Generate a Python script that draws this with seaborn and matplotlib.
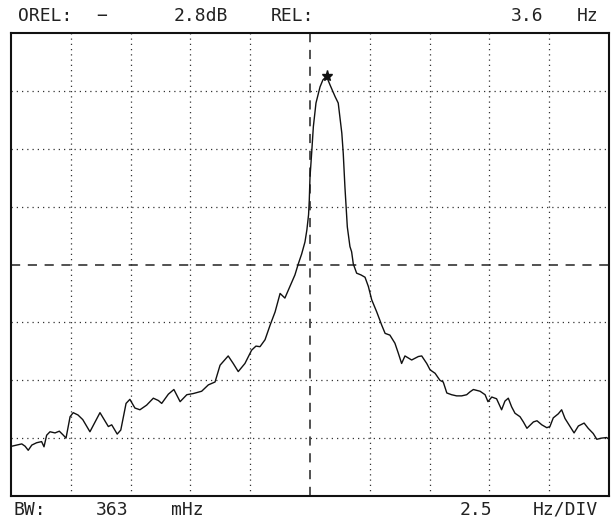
import matplotlib
matplotlib.use("Agg")
import matplotlib.pyplot as plt
import numpy as np
import pandas as pd
import seaborn as sns

# Spectrum trace: frequency offset from centre (Hz) and level (dB)
offset_hz = [
    -12.47, -12.26, -12.05, -11.91, -11.78, -11.63, -11.43, -11.22, -11.12, -11.01,
    -10.87, -10.66, -10.48, -10.31, -10.20, -10.03, -9.90, -9.70, -9.50, -9.20,
    -8.78, -8.43, -8.29, -8.06, -7.91, -7.69, -7.53, -7.32, -7.11, -6.83,
    -6.55, -6.34, -6.20, -5.92, -5.69, -5.43, -5.15, -4.88, -4.53, -4.25,
    -3.97, -3.76, -3.42, -3.21, -3.00, -2.72, -2.44, -2.26, -2.09, -1.88,
    -1.67, -1.46, -1.25, -1.05, -0.84, -0.63, -0.49, -0.35, -0.21, -0.13,
    -0.06, -0.03, 0.00, 0.07, 0.14, 0.25, 0.42, 0.54, 0.69, 0.84,
    1.05, 1.18, 1.25, 1.33, 1.39, 1.46, 1.51, 1.56, 1.67, 1.74,
    1.81, 1.95, 2.13, 2.30, 2.44, 2.58, 2.79, 3.00, 3.14, 3.34,
    3.55, 3.69, 3.83, 3.97, 4.25, 4.53, 4.67, 4.88, 5.02, 5.23,
    5.43, 5.57, 5.72, 5.92, 6.13, 6.34, 6.55, 6.69, 6.83, 7.11,
    7.32, 7.44, 7.60, 7.80, 8.01, 8.15, 8.29, 8.43, 8.57, 8.78,
    8.92, 9.07, 9.34, 9.49, 9.69, 9.90, 10.03, 10.17, 10.38, 10.52,
    10.66, 10.87, 11.04, 11.22, 11.46, 11.63, 11.84, 11.99, 12.19, 12.40,
    12.50,
]
level_db = [
    -71.4, -71.2, -71.0, -71.4, -72.1, -71.2, -70.8, -70.6, -71.5, -69.5,
    -68.9, -69.1, -68.8, -69.5, -70.0, -66.3, -65.6, -66.0, -66.8, -68.9,
    -65.6, -68.0, -67.7, -69.3, -68.6, -64.0, -63.3, -64.8, -65.1, -64.3,
    -63.1, -63.5, -64.0, -62.4, -61.6, -63.7, -62.5, -62.3, -61.9, -60.8,
    -60.3, -57.4, -55.8, -57.1, -58.5, -57.1, -54.8, -54.1, -54.2, -53.0,
    -50.5, -48.2, -45.0, -45.8, -43.8, -41.8, -39.9, -38.2, -36.1, -34.0,
    -31.4, -28.9, -24.9, -20.7, -16.2, -12.1, -9.3, -8.1, -7.5, -9.0,
    -11.0, -12.1, -14.5, -17.3, -20.8, -26.6, -30.0, -33.5, -36.9, -37.8,
    -39.9, -41.5, -41.8, -42.2, -43.8, -46.1, -48.2, -50.5, -51.9, -52.2,
    -53.6, -55.3, -57.1, -55.8, -56.5, -55.9, -55.8, -57.1, -58.2, -58.8,
    -60.0, -60.3, -62.2, -62.5, -62.7, -62.7, -62.5, -62.0, -61.6, -61.9,
    -62.5, -63.7, -62.9, -63.2, -65.1, -63.6, -63.1, -64.6, -65.7, -66.3,
    -67.2, -68.3, -67.2, -67.0, -67.7, -68.2, -68.0, -66.5, -65.8, -65.1,
    -66.6, -68.0, -69.1, -67.9, -67.4, -68.3, -69.2, -70.2, -70.0, -69.9,
    -70.2,
]

# Marker position (peak)
marker_hz = [0.69]
marker_db = [-7.5]

# Display settings: 2.5 Hz/div, 10 dB/div
hz_per_div = 2.5
db_per_div = 10
x_div_lines = [-10.0, -7.5, -5.0, -2.5, 2.5, 5.0, 7.5, 10.0]
y_div_lines = [-10, -20, -30, -50, -60, -70]

top_labels = ["OREL:", "\u2212", "2.8dB", "REL:", "3.6", "Hz"]
top_label_x = [45, 102, 201, 292, 527, 588]
bottom_labels = ["BW:", "363", "mHz", "2.5", "Hz/DIV"]
bottom_label_x = [30, 112, 187, 476, 565]

sns.set_theme(style="white")
plt.rcParams["font.family"] = ["DejaVu Sans Mono", "DejaVu Sans"]

W, H = 613, 525
fig = plt.figure(figsize=(W / 100, H / 100), dpi=100)
ax = fig.add_axes([11 / W, (H - 496) / H, (609 - 11) / W, (496 - 33) / H])

df = pd.DataFrame({"offset": offset_hz, "level": level_db})

# graticule
for xv in x_div_lines:
    ax.axvline(xv, color="#333333", lw=0.9, ls=(0, (1, 3.2)), zorder=1)
for yv in y_div_lines:
    ax.axhline(yv, color="#333333", lw=0.9, ls=(0, (1, 3.2)), zorder=1)
ax.axvline(0, color="#222222", lw=1.1, ls=(0, (6, 5)), zorder=1)
ax.axhline(-40, color="#222222", lw=1.1, ls=(0, (6, 5)), zorder=1)

sns.lineplot(data=df, x="offset", y="level", ax=ax, color="#111111",
             lw=1.0, estimator=None, sort=False, zorder=3)
ax.plot(marker_hz, marker_db, marker="*", color="#111111", ms=8,
        ls="none", zorder=4)

ax.set_xlim(-5 * hz_per_div, 5 * hz_per_div)
ax.set_ylim(-8 * db_per_div, 0)
ax.set_xticks([])
ax.set_yticks([])
ax.set_xlabel("")
ax.set_ylabel("")
for sp in ax.spines.values():
    sp.set_visible(True)
    sp.set_color("#111111")
    sp.set_linewidth(1.5)

for lbl, xp in zip(top_labels, top_label_x):
    fig.text(xp / W, (H - 21) / H, lbl, ha="center", va="baseline",
             fontsize=13, color="#222222")
for lbl, xp in zip(bottom_labels, bottom_label_x):
    fig.text(xp / W, (H - 515) / H, lbl, ha="center", va="baseline",
             fontsize=13, color="#222222")

fig.savefig("out.png", dpi=100, facecolor="white")
